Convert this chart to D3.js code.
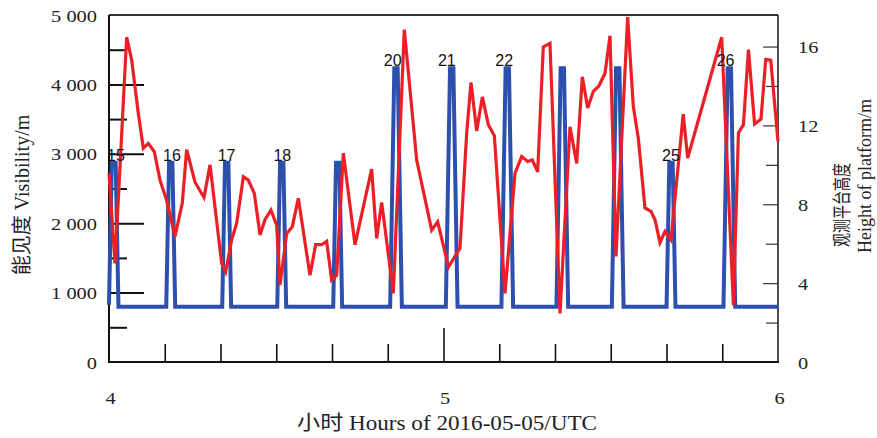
<!DOCTYPE html>
<html>
<head>
<meta charset="utf-8">
<script src="https://cdn.jsdelivr.net/npm/d3@7"></script>
<style>
  html, body { margin: 0; padding: 0; background: #fff; }
  svg { display: block; }
</style>
</head>
<body>
<svg id="chart" width="877" height="438"></svg>
<script>
// Time axis: minutes after 04:00 UTC on 2016-05-05

// Visibility (m), left axis
const visTime = [0, 1.08, 3.17, 4.07, 5.26, 6.16, 7.05, 8.13, 9.15, 10.34, 11.84, 13.15, 13.93, 15.43,
  17.04, 18.12, 20.21, 20.93, 22.0, 22.9, 24.1, 24.99, 26.07, 27.09, 27.98, 29.06, 30.07, 30.67,
  31.87, 32.88, 33.96, 36.05, 37.07, 38.15, 39.04, 39.94, 40.84, 42.03, 44.13, 47.11, 48.01, 48.91,
  51.0, 52.97, 55.19, 57.88, 58.95, 60.9, 62.96, 64.16, 64.93, 65.95, 66.97, 68.04, 69.12, 71.03,
  72.83, 74.02, 75.1, 75.93, 76.89, 77.9, 79.1, 80.9, 82.69, 83.89, 84.9, 85.86, 86.88, 87.89,
  88.97, 89.87, 90.94, 93.03, 94.05, 94.95, 96.14, 97.22, 97.94, 98.83, 99.73, 100.8, 103.0, 103.8,
  109.9, 112.0, 112.9, 113.8, 114.7, 115.8, 116.95, 117.8, 118.7, 120];
const visValue = [2720, 1420, 4680, 4350, 3580, 3080, 3150, 3030, 2620, 2330, 1810, 2290, 3060, 2590,
  2370, 2840, 1420, 1300, 1760, 2000, 2670, 2620, 2430, 1830, 2050, 2190, 1970, 1110,
  1850, 1950, 2360, 1250, 1690, 1690, 1740, 1180, 1250, 3010, 1690, 2780, 1780, 2300,
  990, 4790, 2910, 1900, 2020, 1370, 1640, 3300, 4030, 3330, 3820, 3420, 3260, 990,
  2720, 2960, 2890, 2910, 2740, 4540, 4590, 700, 3390, 2860, 4110, 3660, 3900, 3980,
  4160, 4700, 1520, 4970, 3680, 3220, 2220, 2170, 2050, 1720, 1880, 1760, 3570, 2940,
  4680, 820, 3300, 3420, 4500, 3430, 3500, 4360, 4350, 3180];

// Height of the observation platform (m), right axis
const platTime = [0, 0.5, 1.2, 1.7,
  10.27, 10.77, 11.37, 11.87,
  20.31, 20.81, 21.41, 21.91,
  30.18, 30.68, 31.28, 31.78,
  40.22, 40.72, 41.32, 41.82,
  50.43, 51.18, 51.78, 52.53,
  60.42, 61.17, 61.77, 62.52,
  70.39, 71.14, 71.74, 72.49,
  80.26, 81.01, 81.61, 82.36,
  90.2, 90.95, 91.55, 92.3,
  100.01, 100.51, 101.11, 101.61,
  110.22, 110.97, 111.57, 112.32,
  120];
const platHeight = [2.9, 10.1, 10.1, 2.8,
  2.8, 10.1, 10.1, 2.8,
  2.8, 10.1, 10.1, 2.8,
  2.8, 10.1, 10.1, 2.8,
  2.8, 10.1, 10.1, 2.8,
  2.8, 14.9, 14.9, 2.8,
  2.8, 14.9, 14.9, 2.8,
  2.8, 14.9, 14.9, 2.8,
  2.8, 14.9, 14.9, 2.8,
  2.8, 14.9, 14.9, 2.8,
  2.8, 10.1, 10.1, 2.8,
  2.8, 14.9, 14.9, 2.8,
  2.8];

// Lift numbers written above their peaks
const liftLabels = ["15", "16", "17", "18", "20", "21", "22", "25", "26"];
const liftLabelTime = [1.25, 11.3, 21.1, 31.1, 50.9, 60.6, 70.9, 100.8, 110.6];
const liftLabelHeight = [10.1, 10.1, 10.1, 10.1, 14.9, 14.9, 14.9, 10.1, 14.9];

// Tick values
const visMajor = [1000, 2000, 3000, 4000];
const visMinor = [500, 1500, 2500, 3500, 4500];
const visLabels = [0, 1000, 2000, 3000, 4000, 5000];
const heightMajor = [4, 8, 12, 16];
const heightMinor = [2, 6, 10, 14];
const heightLabels = [0, 4, 8, 12, 16];
const minuteTicks = [10, 20, 30, 40, 50, 70, 80, 90, 100, 110];
const hourTick = [60];
const hourLabelTicks = [0, 60, 120];

const serif = "'Liberation Serif', 'Times New Roman', 'Noto Sans CJK SC', serif";
const sans = "'Liberation Sans', Arial, sans-serif";

const svg = d3.select("#chart");
svg.append("rect").attr("width", 877).attr("height", 438).attr("fill", "#fff");

const L = 109, R = 778, T = 15, B = 362;
const x = d3.scaleLinear().domain([0, 120]).range([L, R]);
const yVis = d3.scaleLinear().domain([0, 5000]).range([B, T]);
const yH = d3.scaleLinear().domain([0, 17.6]).range([B, T]);

function tickGroup(axis, tr, width, color) {
  const g = svg.append("g").attr("transform", tr).call(axis);
  g.select(".domain").remove();
  g.selectAll(".tick line").attr("stroke", color).attr("stroke-width", width);
  g.selectAll(".tick text").remove();
  return g;
}

// inward ticks
tickGroup(d3.axisRight(yVis).tickValues(visMajor).tickSize(35), `translate(${L},0)`, 2, "#111");
tickGroup(d3.axisRight(yVis).tickValues(visMinor).tickSize(18), `translate(${L},0)`, 2, "#111");
tickGroup(d3.axisLeft(yH).tickValues(heightMajor).tickSize(15), `translate(${R},0)`, 1.2, "#333");
tickGroup(d3.axisLeft(yH).tickValues(heightMinor).tickSize(12), `translate(${R},0)`, 1.2, "#333");
tickGroup(d3.axisTop(x).tickValues(minuteTicks).tickSize(18), `translate(0,${B})`, 1.6, "#111");
tickGroup(d3.axisTop(x).tickValues(hourTick).tickSize(34), `translate(0,${B})`, 1.6, "#111");

// frame
const frame = svg.append("g").attr("fill", "none");
frame.append("line").attr("x1", L).attr("x2", R).attr("y1", T).attr("y2", T).attr("stroke", "#333").attr("stroke-width", 2);
frame.append("line").attr("x1", R).attr("x2", R).attr("y1", T).attr("y2", B).attr("stroke", "#222").attr("stroke-width", 1.6);
frame.append("line").attr("x1", L).attr("x2", L).attr("y1", T).attr("y2", B + 1).attr("stroke", "#111").attr("stroke-width", 2);
frame.append("line").attr("x1", L - 1).attr("x2", R + 1).attr("y1", B).attr("y2", B).attr("stroke", "#111").attr("stroke-width", 2);

// tick labels
function labelGroup(axis, tr, anchor, shift) {
  const g = svg.append("g").attr("transform", tr).call(axis);
  g.select(".domain").remove();
  g.selectAll(".tick line").remove();
  g.attr("font-family", serif).attr("font-size", 17);
  g.selectAll(".tick text")
    .attr("x", null).attr("y", null).attr("dy", null)
    .attr("fill", "#222")
    .attr("text-anchor", anchor)
    .attr("transform", `translate(${shift[0]},${shift[1]}) scale(1.2,1)`);
  return g;
}
const fmtVis = d => d3.format(",")(d).replace(/,/g, " ");
labelGroup(d3.axisLeft(yVis).tickValues(visLabels).tickSize(0).tickFormat(fmtVis), `translate(${L},0)`, "end", [-12, 6]);
labelGroup(d3.axisRight(yH).tickValues(heightLabels).tickSize(0).tickFormat(d3.format("d")), `translate(${R},0)`, "start", [20, 6]);
labelGroup(d3.axisBottom(x).tickValues(hourLabelTicks).tickSize(0).tickFormat(d => String(4 + d / 60)), `translate(0,${B})`, "middle", [1, 42]);

// series
const platData = platTime.map((t, i) => ({ t, v: platHeight[i] }));
const visData = visTime.map((t, i) => ({ t, v: visValue[i] }));

svg.append("path")
  .datum(platData)
  .attr("fill", "none")
  .attr("stroke", "#2d4fae")
  .attr("stroke-width", 4)
  .attr("stroke-linejoin", "miter")
  .attr("d", d3.line().x(d => x(d.t)).y(d => yH(d.v)));

svg.append("path")
  .datum(visData)
  .attr("fill", "none")
  .attr("stroke", "#ec1f27")
  .attr("stroke-width", 3.2)
  .attr("stroke-linejoin", "miter")
  .attr("d", d3.line().x(d => x(d.t)).y(d => yVis(d.v)));

// lift numbers
svg.append("g")
  .attr("font-family", sans)
  .attr("font-size", 16)
  .attr("fill", "#111")
  .attr("text-anchor", "middle")
  .selectAll("text")
  .data(liftLabels)
  .join("text")
  .attr("x", (d, i) => x(liftLabelTime[i]))
  .attr("y", (d, i) => yH(liftLabelHeight[i]) - 2)
  .text(d => d);

// axis titles
svg.append("text")
  .attr("transform", "translate(29,195) rotate(-90)")
  .attr("text-anchor", "middle")
  .attr("font-family", serif)
  .attr("font-size", 20)
  .attr("fill", "#222")
  .text("能见度 Visibility/m");

svg.append("text")
  .attr("transform", "translate(849,205) rotate(-90) scale(1,1.35)")
  .attr("text-anchor", "middle")
  .attr("font-family", "'Noto Sans CJK SC', sans-serif")
  .attr("font-size", 14)
  .attr("fill", "#222")
  .text("观测平台高度");

svg.append("text")
  .attr("transform", "translate(871,176) rotate(-90)")
  .attr("text-anchor", "middle")
  .attr("font-family", serif)
  .attr("font-size", 18)
  .attr("fill", "#222")
  .text("Height of platform/m");

svg.append("text")
  .attr("x", 297)
  .attr("y", 430)
  .attr("font-family", serif)
  .attr("font-size", 20)
  .attr("fill", "#222")
  .attr("textLength", 300)
  .attr("lengthAdjust", "spacingAndGlyphs")
  .text("小时 Hours of 2016-05-05/UTC");
</script>
</body>
</html>
